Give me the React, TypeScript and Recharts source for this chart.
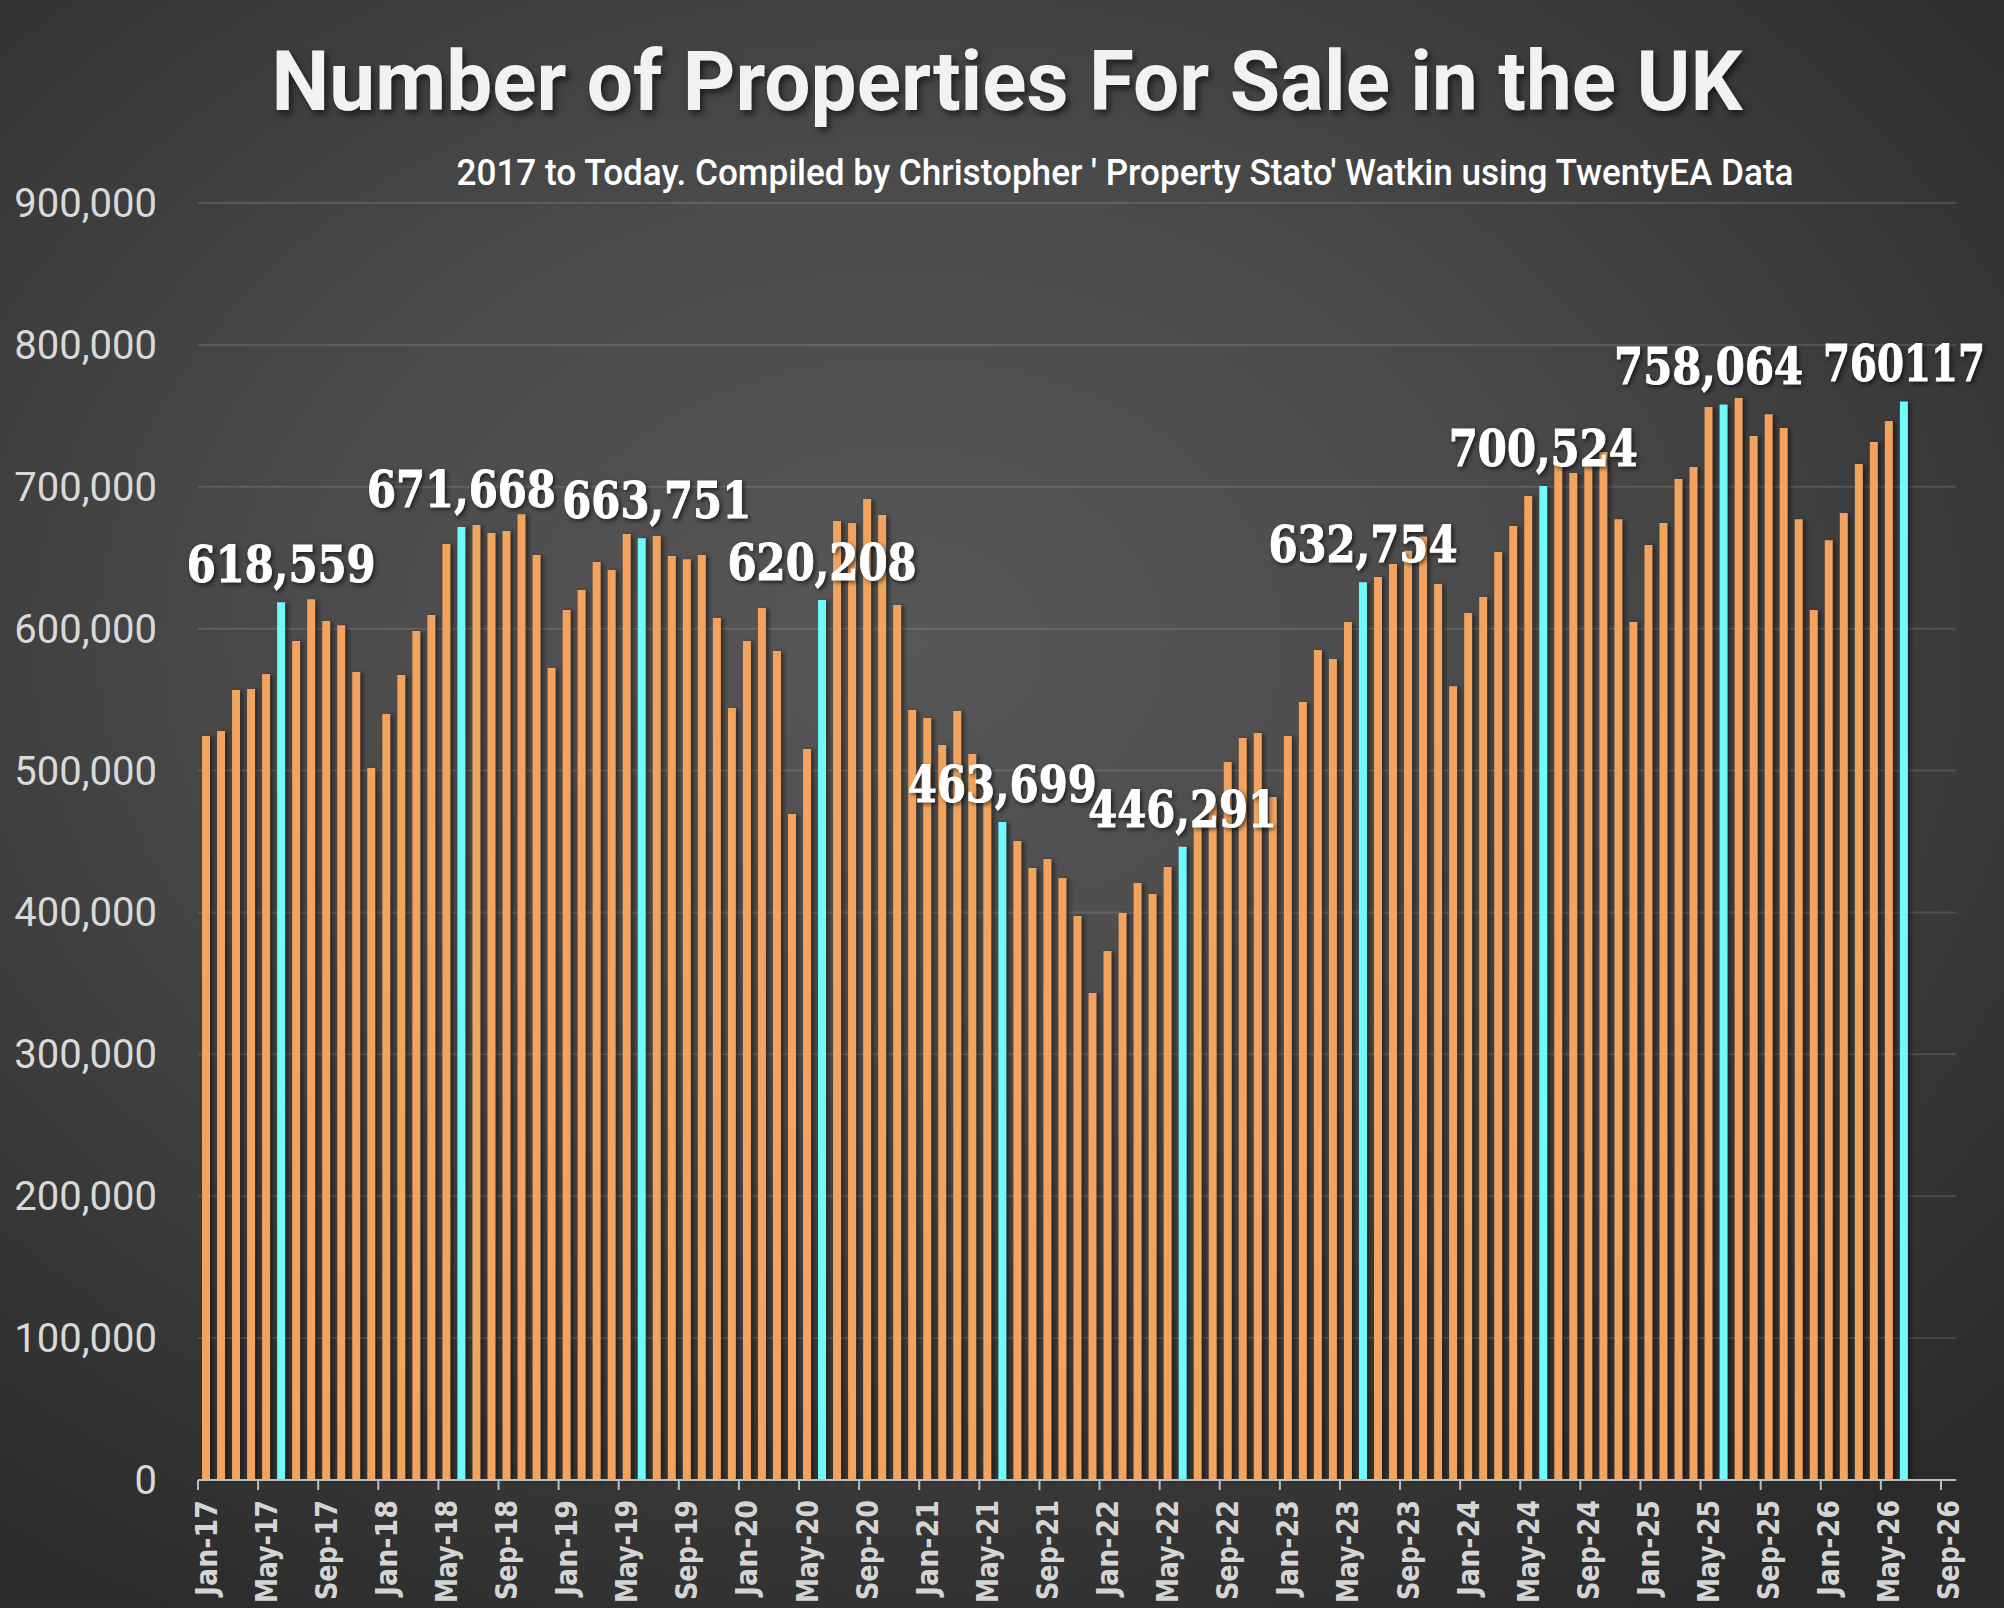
import { BarChart, Bar, XAxis, YAxis, CartesianGrid, Cell, LabelList } from 'recharts'

const MONTH_NAMES = ['Jan', 'Feb', 'Mar', 'Apr', 'May', 'Jun', 'Jul', 'Aug', 'Sep', 'Oct', 'Nov', 'Dec']
const START_YEAR = 17

// monthly count of properties for sale, Jan-17 .. Jun-26
const propertiesForSale = [
  524300, 527800, 556700, 557400, 568000, 618559, 591300, 620800, 605400, 602400, 569400, 501800,
  539800, 567300, 598300, 609600, 659600, 671668, 673000, 667400, 668800, 680700, 651900, 572200,
  613100, 627200, 646900, 641300, 666700, 663751, 665300, 651200, 649000, 651900, 607500, 544000,
  591300, 614500, 584200, 469300, 515200, 620208, 675800, 674400, 691300, 680100, 616600, 542600,
  537000, 518000, 541900, 511600, 480600, 463699, 450300, 431300, 437600, 424200, 397500, 343200,
  372800, 399600, 420700, 413000, 432000, 446291, 463000, 477000, 506000, 522900, 526400, 481300,
  524300, 548300, 584900, 578600, 604700, 632754, 636400, 645500, 655000, 665000, 631400, 559500,
  611000, 622300, 654000, 672300, 693500, 700524, 715300, 709700, 717000, 724500, 677200, 604700,
  658900, 674400, 705400, 713900, 756200, 758064, 762500, 735700, 751200, 741400, 677200, 613100,
  662400, 681500, 716000, 731500, 746300, 760117,
]

const highlightMonths = ['Jun-17', 'Jun-18', 'Jun-19', 'Jun-20', 'Jun-21', 'Jun-22', 'Jun-23', 'Jun-24', 'Jun-25', 'Jun-26']
const highlightLabels = ['618,559', '671,668', '663,751', '620,208', '463,699', '446,291', '632,754', '700,524', '758,064', '760117']

const xTickLabels = [
  'Jan-17', 'May-17', 'Sep-17', 'Jan-18', 'May-18', 'Sep-18', 'Jan-19', 'May-19', 'Sep-19', 'Jan-20',
  'May-20', 'Sep-20', 'Jan-21', 'May-21', 'Sep-21', 'Jan-22', 'May-22', 'Sep-22', 'Jan-23', 'May-23',
  'Sep-23', 'Jan-24', 'May-24', 'Sep-24', 'Jan-25', 'May-25', 'Sep-25', 'Jan-26', 'May-26', 'Sep-26',
]
const yTicks = [0, 100000, 200000, 300000, 400000, 500000, 600000, 700000, 800000, 900000]

const AXIS_MONTHS = 117 // Jan-17 .. Sep-26
const TICK_STEP = 4

const W = 2004
const H = 1608
const PLOT_LEFT = 198
const PLOT_RIGHT = 1956
const PLOT_TOP = 203
const PLOT_BOTTOM = 1480
const BAND = (PLOT_RIGHT - PLOT_LEFT) / AXIS_MONTHS

const ORANGE = '#F2A35E'
const CYAN = '#72F9F9'

// rotated tick label lengths in px, by month name
const TICK_TEXT_LEN: Record<string, number> = { Jan: 96, May: 103, Sep: 100 }
// a couple of labels were nudged off their bar in the original (in months)
const LABEL_SHIFT: Record<string, number> = { '663,751': 1, '758,064': -1 }

const monthLabel = (i: number) =>
  `${MONTH_NAMES[i % 12]}-${START_YEAR + Math.floor(i / 12)}`

const data = propertiesForSale.map((value, i) => {
  const month = monthLabel(i)
  const h = highlightMonths.indexOf(month)
  return {
    pos: i + 0.5,
    month,
    value,
    highlight: h >= 0,
    label: h >= 0 ? highlightLabels[h] : '',
  }
})

function XTick({ x, y, payload }: any) {
  const idx = Math.round(payload.value / TICK_STEP)
  const label = xTickLabels[idx]
  const cx = x + BAND / 2 + 11
  return (
    <text
      transform={`translate(${cx},${y}) rotate(-90)`}
      textAnchor="end"
      fill="#d4d4d4"
      fontFamily="'DejaVu Sans', sans-serif"
      fontWeight="bold"
      fontSize={31}
      textLength={TICK_TEXT_LEN[label.slice(0, 3)]}
      lengthAdjust="spacingAndGlyphs"
    >
      {label}
    </text>
  )
}

function YTick({ y, payload }: any) {
  return (
    <text
      x={157}
      y={y + 14}
      textAnchor="end"
      fill="#d9d9d9"
      fontFamily="Roboto, 'Noto Sans', sans-serif"
      fontSize={40}
    >
      {payload.value.toLocaleString('en-US')}
    </text>
  )
}

function PeakLabel(props: any) {
  const { x, y, width, value } = props
  if (!value) return null
  const text = String(value)
  const shift = (LABEL_SHIFT[text] ?? 0) * BAND
  return (
    <text
      x={x + width / 2 + shift}
      y={y - 20}
      textAnchor="middle"
      fill="#ffffff"
      stroke="#ffffff"
      strokeWidth={1}
      fontFamily="'DejaVu Serif', serif"
      fontWeight="bold"
      fontSize={50}
      textLength={text.length * 27}
      lengthAdjust="spacingAndGlyphs"
      style={{ filter: 'drop-shadow(2px 2px 2px rgba(0,0,0,0.6))' }}
    >
      {text}
    </text>
  )
}

export default function App() {
  return (
    <div
      style={{
        position: 'absolute',
        left: 0,
        top: 0,
        width: W,
        height: H,
        overflow: 'hidden',
        background:
          'radial-gradient(ellipse 75% 70% at 45% 40%, #575757 0%, #4b4b4b 40%, #363636 78%, #2b2b2b 100%)',
      }}
    >
      <BarChart
        width={W}
        height={H}
        data={data}
        margin={{ top: PLOT_TOP, right: W - PLOT_RIGHT, bottom: 0, left: 0 }}
        style={{ position: 'absolute', left: 0, top: 0 }}
      >
        <CartesianGrid vertical={false} stroke="rgba(255,255,255,0.12)" strokeWidth={2} />
        <XAxis
          type="number"
          dataKey="pos"
          domain={[0, AXIS_MONTHS]}
          ticks={xTickLabels.map((_, i) => i * TICK_STEP)}
          height={H - PLOT_BOTTOM}
          axisLine={{ stroke: '#bdbdbd', strokeWidth: 2 }}
          tickLine={{ stroke: '#bdbdbd', strokeWidth: 2 }}
          tickSize={10}
          tickMargin={10}
          tick={<XTick />}
          interval={0}
          allowDataOverflow
        />
        <YAxis
          type="number"
          domain={[0, 900000]}
          ticks={yTicks}
          width={PLOT_LEFT}
          axisLine={false}
          tickLine={false}
          tick={<YTick />}
          interval={0}
        />
        <Bar dataKey="value" barSize={8} isAnimationActive={false}>
          {data.map((d) => (
            <Cell
              key={d.month}
              fill={d.highlight ? CYAN : ORANGE}
              style={{ filter: 'drop-shadow(3px 1px 2px rgba(0,0,0,0.45))' }}
            />
          ))}
          <LabelList dataKey="label" content={<PeakLabel />} />
        </Bar>
      </BarChart>

      {/* Title and subtitle */}
      <svg
        width={W}
        height={H}
        style={{ position: 'absolute', left: 0, top: 0, pointerEvents: 'none' }}
      >
        <text
          x={1007}
          y={110}
          textAnchor="middle"
          fill="#f2f2f2"
          fontFamily="Roboto, 'Noto Sans', sans-serif"
          fontWeight="bold"
          fontSize={84}
          textLength={1471}
          lengthAdjust="spacingAndGlyphs"
          style={{ filter: 'drop-shadow(3px 4px 3px rgba(0,0,0,0.55))' }}
        >
          Number of Properties For Sale in the UK
        </text>
        <text
          x={1125}
          y={185}
          textAnchor="middle"
          fill="#ffffff"
          fontFamily="Roboto, 'Noto Sans', sans-serif"
          fontWeight={500}
          fontSize={36}
          textLength={1337}
          lengthAdjust="spacingAndGlyphs"
        >
          2017 to Today. Compiled by Christopher ' Property Stato' Watkin using TwentyEA Data
        </text>
      </svg>
    </div>
  )
}
